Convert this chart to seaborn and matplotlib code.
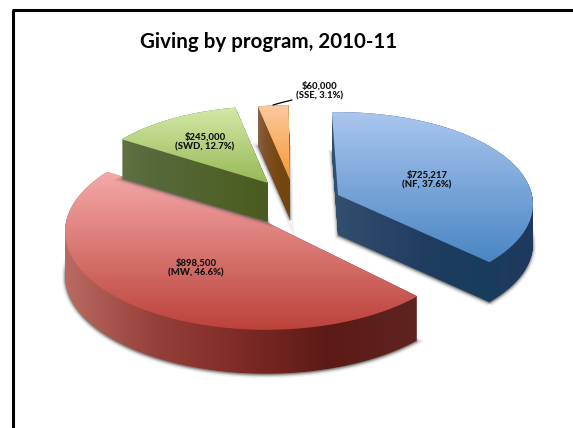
import matplotlib
matplotlib.use("Agg")
import matplotlib.pyplot as plt
import numpy as np
import seaborn as sns
from matplotlib.path import Path
from matplotlib.patches import PathPatch
from matplotlib.transforms import Affine2D, Transform

# Data
programs = ["NF", "MW", "SWD", "SSE"]
amounts = [725217, 898500, 245000, 60000]
shares = [37.6, 46.6, 12.7, 3.1]

# Look of each slice (pixel positions on the slide)
apex = [(338, 195), (266, 222), (268, 183), (290, 180)]
scale_x = [0.97, 1.0, 0.92, 0.87]
scale_y = [0.94, 1.0, 0.87, 0.85]
twist = [0, -2, -2, -1.5]
depth = [40, 44, 39, 39]
top_colors = [
    ["#aac6ee", "#4a86c4"],
    ["#f4a8a8", "#bc433b"],
    ["#d3e8a6", "#97ba58"],
    ["#fbc9a0", "#f59a34"],
]
side_colors = [
    ["#33506f", "#2a4468", "#1e3c60", "#1a3d5c", "#20395f"],
    ["#b96a62", "#96403a", "#7e2a26", "#5c1a16", "#5f2420"],
    ["#5f7042", "#55683a", "#52652f", "#4e6026", "#4a5a20"],
    ["#8c6242", "#7e5028", "#7a4a14", "#74460f", "#74460f"],
]
label_pos = [(427, 180), (196, 268), (205, 142), (320, 91)]

sns.set_theme(style="white")
plt.rcParams["font.family"] = ["Lato", "DejaVu Sans"]


class Tilt(Transform):
    # flat pie -> tilted disc in pixels, far side a bit smaller
    input_dims = 2
    output_dims = 2
    is_affine = False

    def __init__(self, rx, ry, k):
        super().__init__()
        self.rx, self.ry, self.k = rx, ry, k

    def transform_non_affine(self, values):
        w = 1 / (1 + self.k * values[:, 1])
        return np.column_stack([self.rx * values[:, 0] * w, -self.ry * values[:, 1] * w])

    def transform_path_non_affine(self, path):
        # blow the unit pie up before flattening or the arc comes out in coarse segments
        poly = path.to_polygons(Affine2D().scale(1000), closed_only=True)[0] / 1000
        return Path(self.transform_non_affine(poly))


fig = plt.figure(figsize=(5.73, 4.28), dpi=100)
ax = fig.add_axes([0, 0, 1, 1])

total = sum(amounts)
start = 92.0
gradient_y = np.linspace(0, 1, 64).reshape(-1, 1)
gradient_x = np.linspace(0, 1, 128).reshape(1, -1)

# far slices first so the near ones overlap them
for i in [2, 3, 0, 1]:
    before = sum(amounts[:i]) / total * 360
    angle = start + twist[i] - before - amounts[i] / total * 360
    wedges, _ = ax.pie([amounts[i] / total], normalize=False, startangle=angle, wedgeprops={"linewidth": 0})
    wedge = wedges[0]
    tilt = Tilt(200 * scale_x[i], 97 * scale_y[i], 0.1)
    outline = tilt.transform_path(wedge.get_path())
    top = outline.transformed(Affine2D().translate(*apex[i]))
    layers = [top.transformed(Affine2D().translate(0, d)) for d in range(depth[i] + 1)]
    body = Path.make_compound_path(*layers)

    # soft shadow round the base
    base = top.transformed(Affine2D().translate(0, depth[i] + 1))
    for lw, alpha in [(5, 0.08), (3, 0.16), (1.5, 0.3)]:
        ax.add_patch(PathPatch(base, fc="#555555", ec="#555555", lw=lw, alpha=alpha, zorder=i + 1))

    x0, y0 = body.vertices.min(axis=0)
    x1, y1 = body.vertices.max(axis=0)

    side = ax.imshow(gradient_x, extent=(x0, x1, y1, y0), aspect="auto", zorder=i + 1.1,
                     cmap=sns.blend_palette(side_colors[i], as_cmap=True))
    side.set_clip_path(PathPatch(body, transform=ax.transData))

    tx0, ty0 = top.vertices.min(axis=0)
    tx1, ty1 = top.vertices.max(axis=0)
    face = ax.imshow(gradient_y, extent=(tx0, tx1, ty1, ty0), aspect="auto", zorder=i + 1.2,
                     cmap=sns.blend_palette(top_colors[i], as_cmap=True))
    face.set_clip_path(PathPatch(top, transform=ax.transData))
    wedge.set_visible(False)

ax.set_aspect("auto")
ax.set_xlim(0, 573)
ax.set_ylim(428, 0)
ax.set_frame_on(False)
ax.set_xticks([])
ax.set_yticks([])

# Labels
for i, name in enumerate(programs):
    ax.text(label_pos[i][0], label_pos[i][1], f"${amounts[i]:,}\n({name}, {shares[i]}%)", ha="center", va="center",
            fontsize=6.8, fontweight="black", color="#111111", linespacing=1.2, zorder=20)
ax.plot([273, 280, 292], [105, 103, 100], color="black", lw=0.9, zorder=20)

ax.text(269, 42, "Giving by program, 2010-11", ha="center", va="center", fontsize=14.8, fontweight="bold",
        color="black", zorder=20)

# Slide edge
ax.plot([13.3, 13.3], [10, 428], color="black", lw=2.2, solid_capstyle="butt", zorder=20)
ax.plot([12, 573], [10, 10], color="black", lw=2.2, solid_capstyle="butt", zorder=20)

fig.savefig("out.png", dpi=100)
